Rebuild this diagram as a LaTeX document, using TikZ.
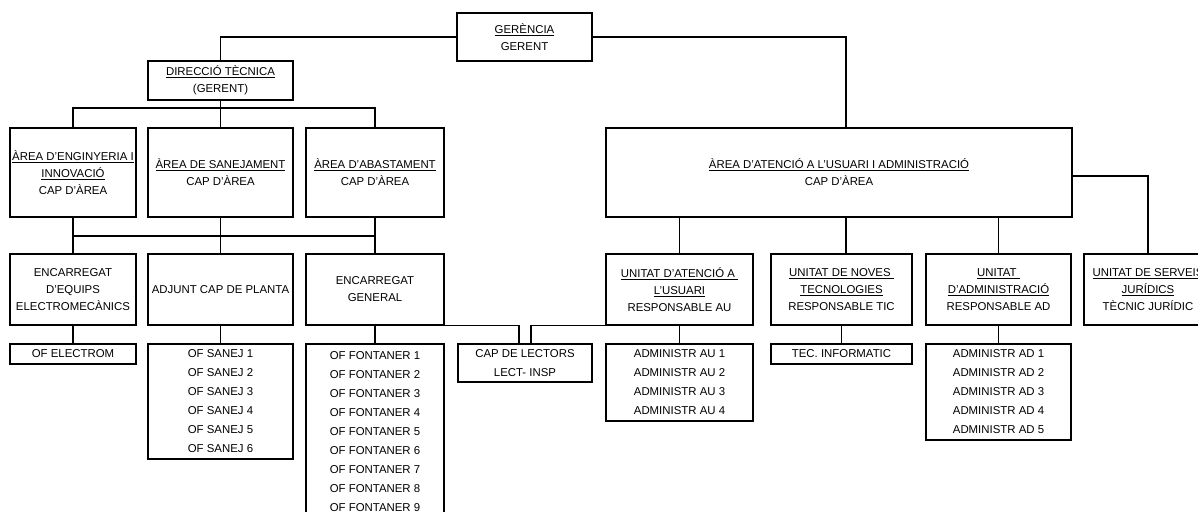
\documentclass[tikz,border=0pt]{standalone}
\usepackage{fontspec}
\setmainfont{Liberation Sans}

\tikzset{
  orgbox/.style={draw, line width=1.1pt, align=center, inner sep=0pt, text=black,
    font=\fontsize{11.4}{17}\selectfont},
  listbox/.style={orgbox, font=\fontsize{11.4}{19}\selectfont},
  link/.style={line width=1.1pt},
}

\begin{document}
\begin{tikzpicture}[x=1pt, y=-1pt]
      % Page frame (pixel coordinates, y downwards)
      \useasboundingbox (0,0) rectangle (1198,511);
      \clip (0,0) rectangle (1198,511);

      % Helper coordinates for the bus lines
      \coordinate (busA) at (0,108);   % Under direccio tecnica
      \coordinate (busB) at (0,236);   % Under the three areas
      \coordinate (spine) at (846,0);  % Right branch
      \coordinate (side) at (0,176);   % Branch to serveis juridics

      % Top levels
      \node[orgbox, minimum width=135, minimum height=48] (ger) at (524.5,37)
          {\underline{GERÈNCIA}\\GERENT};
      \node[orgbox, minimum width=145, minimum height=39] (dir) at (220.5,80.5)
          {\underline{DIRECCIÓ TÈCNICA}\\(GERENT)};

      % Areas
      \node[orgbox, minimum width=126, minimum height=89] (eng) at (73,172.5)
          {\underline{ÀREA D'ENGINYERIA I}\\\underline{INNOVACIÓ}\\CAP D'ÀREA};
      \node[orgbox, minimum width=145, minimum height=89] (san) at (220.5,172.5)
          {\underline{ÀREA DE SANEJAMENT}\\CAP D'ÀREA};
      \node[orgbox, minimum width=138, minimum height=89] (aba) at (375,172.5)
          {\underline{ÀREA D'ABASTAMENT}\\CAP D'ÀREA};
      \node[orgbox, minimum width=466, minimum height=89] (ate) at (839,172.5)
          {\underline{ÀREA D'ATENCIÓ A L'USUARI I ADMINISTRACIÓ}\\CAP D'ÀREA};

      % Second row
      \node[orgbox, minimum width=126, minimum height=71] (eeq) at (73,289.5)
          {ENCARREGAT\\D'EQUIPS\\ELECTROMECÀNICS};
      \node[orgbox, minimum width=145, minimum height=71] (adj) at (220.5,289.5)
          {ADJUNT CAP DE PLANTA};
      \node[orgbox, minimum width=138, minimum height=71] (egen) at (375,289.5)
          {ENCARREGAT\\GENERAL};
      \node[orgbox, minimum width=147, minimum height=71] (uau) at (679.5,289.5)
          {\underline{UNITAT D'ATENCIÓ A\ }\\\underline{L'USUARI}\\RESPONSABLE AU};
      \node[orgbox, minimum width=141, minimum height=71] (unt) at (841.5,289.5)
          {\underline{UNITAT DE NOVES\ }\\\underline{TECNOLOGIES}\\RESPONSABLE TIC};
      \node[orgbox, minimum width=145, minimum height=71] (uad) at (998.5,289.5)
          {\underline{UNITAT\ }\\\underline{D'ADMINISTRACIÓ}\\RESPONSABLE AD};
      \node[orgbox, minimum width=128, minimum height=71] (usj) at (1148,289.5)
          {\underline{UNITAT DE SERVEIS}\\\underline{JURÍDICS}\\TÈCNIC JURÍDIC};

      % Staff lists
      \node[listbox, minimum width=126, minimum height=20] (oel) at (73,354)
          {OF ELECTROM};
      \node[listbox, minimum width=145, minimum height=115] (osa) at (220.5,401.5)
          {OF SANEJ 1\\OF SANEJ 2\\OF SANEJ 3\\OF SANEJ 4\\OF SANEJ 5\\OF SANEJ 6};
      \node[listbox, minimum width=138, minimum height=176] (ofo) at (375,432)
          {OF FONTANER 1\\OF FONTANER 2\\OF FONTANER 3\\OF FONTANER 4\\OF FONTANER 5\\
           OF FONTANER 6\\OF FONTANER 7\\OF FONTANER 8\\OF FONTANER 9};
      \node[listbox, minimum width=134, minimum height=38] (clec) at (525,363)
          {CAP DE LECTORS\\LECT- INSP};
      \node[listbox, minimum width=147, minimum height=77] (oau) at (679.5,382.5)
          {ADMINISTR AU 1\\ADMINISTR AU 2\\ADMINISTR AU 3\\ADMINISTR AU 4};
      \node[listbox, minimum width=141, minimum height=20] (otic) at (841.5,354)
          {TEC. INFORMATIC};
      \node[listbox, minimum width=145, minimum height=96] (oad) at (998.5,392)
          {ADMINISTR AD 1\\ADMINISTR AD 2\\ADMINISTR AD 3\\ADMINISTR AD 4\\ADMINISTR AD 5};

      % Links from gerencia
      \draw[link] (ger.west) -| (dir.north);
      \draw[link] (ger.east) -| (ate.north -| spine);

      % Direccio tecnica to the areas
      \draw[link] (dir.south) -- (san.north);
      \draw[link] (eng.north) |- (busA -| aba.north) -- (aba.north);

      % Areas to second row (common bus)
      \draw[link] (eng.south |- busB) -- (aba.south |- busB);
      \foreach \up/\down in {eng/eeq, san/adj, aba/egen}
          \draw[link] (\up.south) -- (\down.north);

      % Atencio a l'usuari to its units
      \draw[link] (ate.south -| uau.north) -- (uau.north);
      \draw[link] (ate.south -| spine) -- (unt.north -| spine);
      \draw[link] (ate.south -| uad.north) -- (uad.north);
      \draw[link] (ate.east |- side) -| (usj.north);

      % Units to their staff
      \foreach \up/\down in {eeq/oel, adj/osa, egen/ofo, uau/oau, unt/otic, uad/oad}
          \draw[link] (\up.south) -- (\down.north);

      % Cap de lectors hangs from two units
      \draw[link] (egen.south east) -| ([xshift=-6pt]clec.north);
      \draw[link] (uau.south west) -| ([xshift=6pt]clec.north);
\end{tikzpicture}
\end{document}
